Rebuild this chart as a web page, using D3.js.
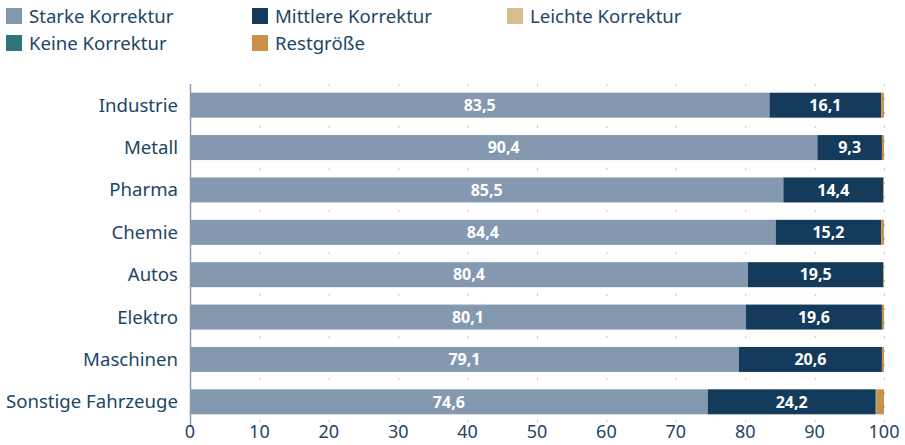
<!DOCTYPE html>
<html>
<head>
<meta charset="utf-8">
<script src="https://cdn.jsdelivr.net/npm/d3@7"></script>
<style>
  body { margin: 0; background: #fff; }
  text { font-family: "Noto Sans", "Open Sans", sans-serif; }
</style>
</head>
<body>
<div class="chart"></div>
<script>
var svgWidth = 905;
var svgHeight = 445;

// data
var categories = ["Industrie", "Metall", "Pharma", "Chemie", "Autos", "Elektro", "Maschinen", "Sonstige Fahrzeuge"];
var seriesNames = ["Starke Korrektur", "Mittlere Korrektur", "Leichte Korrektur", "Keine Korrektur", "Restgröße"];
var starke = [83.5, 90.4, 85.5, 84.4, 80.4, 80.1, 79.1, 74.6];
var mittlere = [16.1, 9.3, 14.4, 15.2, 19.5, 19.6, 20.6, 24.2];
var leichte = [0, 0, 0, 0, 0, 0, 0, 0];
var keine = [0, 0, 0, 0, 0, 0, 0, 0.1];
var rest = [0.4, 0.3, 0.1, 0.4, 0.1, 0.3, 0.3, 1.1];
var xTicks = [0, 10, 20, 30, 40, 50, 60, 70, 80, 90, 100];

var colors = ["#8499b0", "#143b5c", "#d9bd8f", "#2c7578", "#c8914a"];
var textColor = "#1d4566";

var margin = { top: 84, right: 21, bottom: 23, left: 190 };
var width = svgWidth - margin.left - margin.right;
var height = svgHeight - margin.top - margin.bottom;

var svg = d3.select(".chart")
  .append("svg")
  .attr("width", svgWidth)
  .attr("height", svgHeight);

// build rows for stacking
var rows = categories.map(function(c, i) {
  return {
    cat: c,
    "Starke Korrektur": starke[i],
    "Mittlere Korrektur": mittlere[i],
    "Leichte Korrektur": leichte[i],
    "Keine Korrektur": keine[i],
    "Restgröße": rest[i]
  };
});
var stacked = d3.stack().keys(seriesNames)(rows);

var x = d3.scaleLinear().domain([0, 100]).range([0, 694]);
var y = d3.scaleBand().domain(categories).range([0, height + 1]).paddingInner(0.41).paddingOuter(0.205);

var chartGroup = svg.append("g")
  .attr("transform", `translate(${margin.left}, ${margin.top})`);

// dashed gridlines
chartGroup.append("g")
  .selectAll("line")
  .data(xTicks.slice(1))
  .enter()
  .append("line")
  .attr("x1", d => x(d) + 0.5)
  .attr("x2", d => x(d) + 0.5)
  .attr("y1", 0)
  .attr("y2", height + 3)
  .attr("stroke", "#b9c1cb")
  .attr("stroke-width", 1)
  .attr("stroke-dasharray", "2,12");

// bars
var layers = chartGroup.selectAll(".layer")
  .data(stacked)
  .enter()
  .append("g")
  .attr("fill", (d, i) => colors[i]);

layers.selectAll("rect")
  .data(d => d)
  .enter()
  .append("rect")
  .attr("x", d => x(d[0]))
  .attr("y", d => y(d.data.cat))
  .attr("width", d => Math.max(0, x(d[1]) - x(d[0])))
  .attr("height", y.bandwidth());

// value labels for the two main series
[0, 1].forEach(function(k) {
  chartGroup.append("g")
    .selectAll("text")
    .data(stacked[k])
    .enter()
    .append("text")
    .attr("x", d => (x(d[0]) + x(d[1])) / 2)
    .attr("y", d => y(d.data.cat) + y.bandwidth() / 2)
    .attr("dy", "0.36em")
    .attr("text-anchor", "middle")
    .attr("fill", "#fff")
    .style("font-size", "16px")
    .style("font-weight", "bold")
    .text(d => d3.format(".1f")(d[1] - d[0]).replace(".", ","));
});

// left axis line
chartGroup.append("line")
  .attr("x1", 0.5).attr("x2", 0.5)
  .attr("y1", 0).attr("y2", height + 5)
  .attr("stroke", "#8a9aab")
  .attr("stroke-width", 1.5);

// category labels
chartGroup.append("g")
  .selectAll("text")
  .data(categories)
  .enter()
  .append("text")
  .attr("x", -12)
  .attr("y", d => y(d) + y.bandwidth() / 2)
  .attr("dy", "0.35em")
  .attr("text-anchor", "end")
  .attr("fill", textColor)
  .style("font-size", "18.6px")
  .text(d => d);

// x tick labels
chartGroup.append("g")
  .selectAll("text")
  .data(xTicks)
  .enter()
  .append("text")
  .attr("x", d => x(d))
  .attr("y", height + 16)
  .attr("text-anchor", "middle")
  .attr("fill", textColor)
  .style("font-size", "18px")
  .text(d => d);

// legend
var legendPos = [[6, 8], [252, 8], [507, 8], [6, 35], [252, 35]];
var legend = svg.append("g")
  .selectAll("g")
  .data(seriesNames)
  .enter()
  .append("g")
  .attr("transform", (d, i) => `translate(${legendPos[i][0]}, ${legendPos[i][1]})`);

legend.append("rect")
  .attr("width", 16)
  .attr("height", 16)
  .attr("fill", (d, i) => colors[i]);

legend.append("text")
  .attr("x", 23)
  .attr("y", 8)
  .attr("dy", "0.35em")
  .attr("fill", textColor)
  .style("font-size", "18.6px")
  .text(d => d);
</script>
</body>
</html>
